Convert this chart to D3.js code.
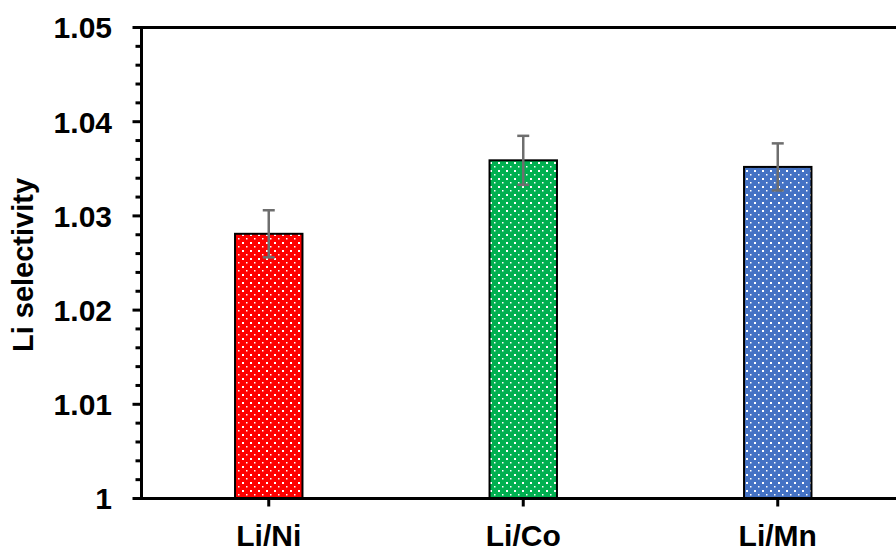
<!DOCTYPE html>
<html>
<head>
<meta charset="utf-8">
<script src="https://cdn.jsdelivr.net/npm/d3@7"></script>
<style>
  body { margin: 0; background: #fff; }
  svg { display: block; font-family: Arial, "Liberation Sans", sans-serif; }
</style>
</head>
<body>
<div id="chart"></div>
<script>
// chart data
var categories = ["Li/Ni", "Li/Co", "Li/Mn"];
var values = [1.0281, 1.0359, 1.0352];
var errors = [0.0025, 0.0026, 0.0025];
var barColors = ["#ff0000", "#00b050", "#4472c4"];
var yTicks = [1, 1.01, 1.02, 1.03, 1.04, 1.05];
var yTickLabels = ["1", "1.01", "1.02", "1.03", "1.04", "1.05"];

var width = 896, height = 553;
var plotLeft = 141.5, plotTop = 27.5, plotBottom = 498.5, plotRight = 905;

var svg = d3.select("#chart")
    .append("svg")
    .attr("width", width)
    .attr("height", height);

// dotted fill patterns, one per bar colour
var defs = svg.append("defs");
barColors.forEach(function (c, i) {
    var p = defs.append("pattern")
        .attr("id", "dots" + i)
        .attr("patternUnits", "userSpaceOnUse")
        .attr("width", 8)
        .attr("height", 8);
    p.append("rect").attr("width", 8).attr("height", 8).attr("fill", c);
    p.append("rect").attr("x", 2).attr("y", 2).attr("width", 2).attr("height", 2).attr("fill", "#fff");
    p.append("rect").attr("x", 6).attr("y", 6).attr("width", 1.5).attr("height", 1.5).attr("fill", "#fff");
});

// band scale for category centres, bar width is ~26% of a band
var xc = d3.scaleBand().domain(categories).range([plotLeft, plotRight]);
var barW = xc.bandwidth() * 0.265;

var y = d3.scaleLinear()
    .domain([1, 1.05])
    .range([plotBottom, plotTop]);

// bars
svg.append("g")
    .selectAll("rect")
    .data(categories)
    .enter()
    .append("rect")
    .attr("x", function (d) { return xc(d) + xc.bandwidth() / 2 - barW / 2; })
    .attr("y", function (d, i) { return y(values[i]); })
    .attr("width", barW)
    .attr("height", function (d, i) { return y(1) - y(values[i]); })
    .attr("fill", function (d, i) { return "url(#dots" + i + ")"; })
    .attr("stroke", "#000")
    .attr("stroke-width", 2);

// error bars
var eb = svg.append("g")
    .attr("stroke", "#6e6e6e")
    .attr("stroke-width", 2.5);
categories.forEach(function (d, i) {
    var cx = xc(d) + xc.bandwidth() / 2;
    var y1 = y(values[i] + errors[i]), y0 = y(values[i] - errors[i]);
    eb.append("line").attr("x1", cx).attr("x2", cx).attr("y1", y1).attr("y2", y0);
    eb.append("line").attr("x1", cx - 6).attr("x2", cx + 6).attr("y1", y1).attr("y2", y1);
    eb.append("line").attr("x1", cx - 6).attr("x2", cx + 6).attr("y1", y0).attr("y2", y0);
});

// frame (top line, left axis, bottom axis)
svg.append("path")
    .attr("d", "M" + (plotRight + 5) + "," + plotTop + "H" + plotLeft + "V" + plotBottom + "H" + (plotRight + 5))
    .attr("fill", "none")
    .attr("stroke", "#000")
    .attr("stroke-width", 3);

// y axis ticks, major every 0.01 and minor every 0.002
var minor = d3.range(0, 26).map(function (k) { return 1 + k * 0.002; });
svg.append("g")
    .selectAll("line")
    .data(minor)
    .enter()
    .append("line")
    .attr("x1", plotLeft)
    .attr("x2", function (d, i) { return i % 5 === 0 ? plotLeft - 9 : plotLeft - 6; })
    .attr("y1", function (d) { return y(d); })
    .attr("y2", function (d) { return y(d); })
    .attr("stroke", "#000")
    .attr("stroke-width", 3);

svg.append("g")
    .selectAll("text")
    .data(yTicks)
    .enter()
    .append("text")
    .attr("x", 112)
    .attr("y", function (d) { return y(d); })
    .attr("dy", "0.36em")
    .attr("text-anchor", "end")
    .style("font-size", "30px")
    .style("font-weight", "bold")
    .text(function (d, i) { return yTickLabels[i]; });

// x axis ticks and labels
var xg = svg.append("g");
categories.forEach(function (d) {
    var cx = xc(d) + xc.bandwidth() / 2;
    xg.append("line")
        .attr("x1", cx).attr("x2", cx)
        .attr("y1", plotBottom).attr("y2", plotBottom + 8)
        .attr("stroke", "#000")
        .attr("stroke-width", 3);
    xg.append("text")
        .attr("x", cx)
        .attr("y", 546)
        .attr("text-anchor", "middle")
        .style("font-size", "30px")
        .style("font-weight", "bold")
        .text(d);
});

// y axis title
svg.append("text")
    .attr("transform", "translate(33,265) rotate(-90)")
    .attr("text-anchor", "middle")
    .style("font-size", "29px")
    .style("font-weight", "bold")
    .text("Li selectivity");
</script>
</body>
</html>
